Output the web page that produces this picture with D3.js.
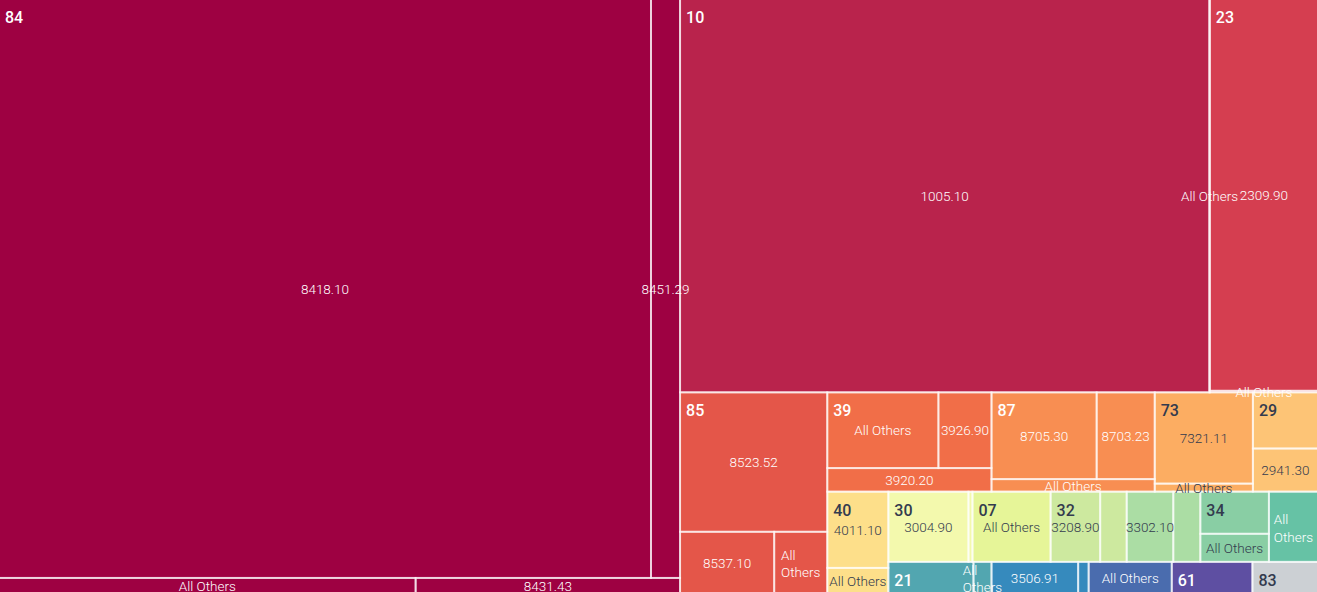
<!DOCTYPE html>
<html><head><meta charset="utf-8">
<script src="https://cdn.jsdelivr.net/npm/d3@7"></script>
<style>html,body{margin:0;padding:0;background:#fff;overflow:hidden}svg{display:block}</style>
</head><body><svg id="c" width="1317" height="592"></svg>
<script>
// ---- data ----
const groupNames = ["84","10","23","85","39","87","73","29","40","30","07","32","","34","","21","","","61","83"];
const childNames = [
  ["8418.10","8451.29","All Others","8431.43"],
  ["1005.10","All Others"],
  ["2309.90","All Others"],
  ["8523.52","8537.10","All Others"],
  ["All Others","3926.90","3920.20"],
  ["8705.30","8703.23","All Others"],
  ["7321.11","All Others"],
  ["","2941.30"],
  ["4011.10","All Others"],
  ["3004.90",""],
  ["All Others"],
  ["3208.90",""],
  ["3302.10",""],
  ["","All Others"],
  ["All Others"],
  ["","All Others"],
  ["3506.91",""],
  ["All Others"],
  [""],
  [""]
];
const childValues = [
  [375627,16733,6240,3960],
  [207172,196],
  [42174,162],
  [20433,5734,3233],
  [8380,4002,3854],
  [9083,5017,2037],
  [8918,784],
  [3640,2795],
  [4636,1525],
  [5600,280],
  [5460],
  [3465,1855],
  [3255,1890],
  [2877,1918],
  [3430],
  [2635,558],
  [2681.5,325.5],
  [2573],
  [2495.5],
  [2030.5]
];
// ---- style ----
const groupColors = ["#9e0142","#b9234c","#d53e50","#e45649","#f16e48","#f88e52","#fcad62","#fdc476",
  "#fddf8a","#f3f9ad","#e6f598","#cde99f","#abdda4","#89cea4","#66c2a5","#52a6b0","#368abd","#4a6cae","#5e4fa2","#ccd0d4"];

const W = 1317, H = 592;

// alternating-direction squarified tiling
function tileAlt(parent, x0, y0, x1, y1) {
  const nodes = parent.children;
  let dir = parent.depth === 0 ? 0 : 1;
  let width = x1 - x0, height = y1 - y0;
  let px = x0, py = y0;
  const total = parent.value, parentArea = width * height;
  let elArr = [], elNodes = [], tot = 0, nW = 0, lW = 0, nH = 0, lH = 0, lR = NaN, nR = NaN;
  const ar = (a, b) => Math.max(a / b, b / a);
  function add(area, node) {
    const last = elArr.length ? elArr[elArr.length - 1] : undefined;
    tot += area;
    if (dir === 0) {
      lW = nW; lR = ar(lW, last / lW);
      nW = tot / height; nR = ar(nW, last / nW);
    } else {
      lH = nH; lR = ar(last / lH, lH);
      nH = tot / width; nR = ar(last / nH, nH);
    }
    elArr.push(area); elNodes.push(node);
  }
  function calc(last) {
    let gW = lW, gH = lH, keepA, keepN;
    if (last) { gW = nW; gH = nH; }
    else { keepA = elArr[elArr.length - 1]; keepN = elNodes[elNodes.length - 1]; }
    const end = elArr.length - 1;
    elArr.forEach((p, i) => {
      if (last || i < end) {
        const n = elNodes[i];
        let w, h;
        if (dir === 0) { w = gW; h = p / w; } else { h = gH; w = p / h; }
        n.x0 = px; n.y0 = py; n.x1 = px + w; n.y1 = py + h;
        if (dir === 0) py += h; else px += w;
      }
    });
    nW = 0; lW = 0; elArr = []; elNodes = []; tot = 0;
    if (dir === 0) width -= gW; else height -= gH;
    py = y1 - height; px = x1 - width;
    dir = 1 - dir;
    if (!last) add(keepA, keepN);
  }
  nodes.forEach((n, i) => {
    add(parentArea * n.value / total, n);
    if (nR > lR) calc(false);
    if (i === nodes.length - 1) calc(true);
  });
}

const data = {name: "root", children: groupNames.map((g, i) => ({
  name: g, color: groupColors[i],
  children: childNames[i].map((c, j) => ({name: c, value: childValues[i][j]}))
}))};
const root = d3.hierarchy(data).sum(d => d.value || 0);
d3.treemap().tile(tileAlt).size([W + 2, H + 2]).round(false)(root);

const svg = d3.select("#c");
const g = svg.append("g").attr("transform", "translate(-1,-1)");
const leaves = root.leaves();
const isLight = c => d3.lab(c).l > 75;
const darkText = "#333b4e";
const FONT = "Roboto, 'Liberation Sans', sans-serif";

g.selectAll("rect.f").data(leaves).join("rect").attr("class", "f")
  .attr("x", d => d.x0).attr("y", d => d.y0)
  .attr("width", d => Math.max(0, d.x1 - d.x0)).attr("height", d => Math.max(0, d.y1 - d.y0))
  .attr("fill", d => d.parent.data.color);
g.selectAll("rect.s").data(leaves).join("rect").attr("class", "s")
  .attr("x", d => d.x0).attr("y", d => d.y0)
  .attr("width", d => Math.max(0, d.x1 - d.x0)).attr("height", d => Math.max(0, d.y1 - d.y0))
  .attr("fill", "none").attr("stroke", "rgba(255,255,255,0.58)").attr("stroke-width", 2);

// child labels
const lh = 17.5, yOff = 0.5;
leaves.filter(d => d.data.name).forEach(d => {
  const cx = (d.x0 + d.x1) / 2, cy = (d.y0 + d.y1) / 2 + yOff, cw = d.x1 - d.x0;
  const col = isLight(d.parent.data.color) ? darkText : "#ffffff";
  const t = g.append("text").attr("font-family", FONT)
    .attr("font-weight", 300).attr("font-size", "13.5px").attr("fill", col)
    .attr("x", cx).attr("y", cy).attr("dy", "0.35em").attr("text-anchor", "middle")
    .text(d.data.name);
  const tw = t.node().getComputedTextLength();
  const words = d.data.name.split(" ");
  if (tw > cw && cw >= 8 && words.length > 1) {
    t.text(null);
    const lines = [];
    let cur = "";
    const probe = g.append("text").attr("font-family", FONT)
      .attr("font-weight", 300).attr("font-size", "13.5px");
    words.forEach(w => {
      const test = cur ? cur + " " + w : w;
      probe.text(test);
      if (cur && probe.node().getComputedTextLength() > cw) { lines.push(cur); cur = w; }
      else cur = test;
    });
    lines.push(cur);
    let maxW = 0;
    lines.forEach(l => { probe.text(l); maxW = Math.max(maxW, probe.node().getComputedTextLength()); });
    probe.remove();
    const x = cx - maxW / 2;
    const y0 = cy - (lines.length - 1) * lh / 2 + 1;
    t.attr("text-anchor", "start").attr("dy", null);
    lines.forEach((l, i) => {
      t.append("tspan").attr("x", x).attr("y", y0 + i * lh).attr("dy", "0.35em").text(l);
    });
  }
});

// group labels
g.selectAll("text.grp").data(root.children.filter(d => d.data.name)).join("text").attr("class", "grp")
  .attr("x", d => d.x0 + 6).attr("y", d => d.y0 + 24)
  .attr("font-family", FONT).attr("font-weight", 500)
  .attr("font-size", "16px")
  .attr("fill", d => isLight(d.data.color) ? darkText : "#ffffff")
  .text(d => d.data.name);
</script></body></html>
